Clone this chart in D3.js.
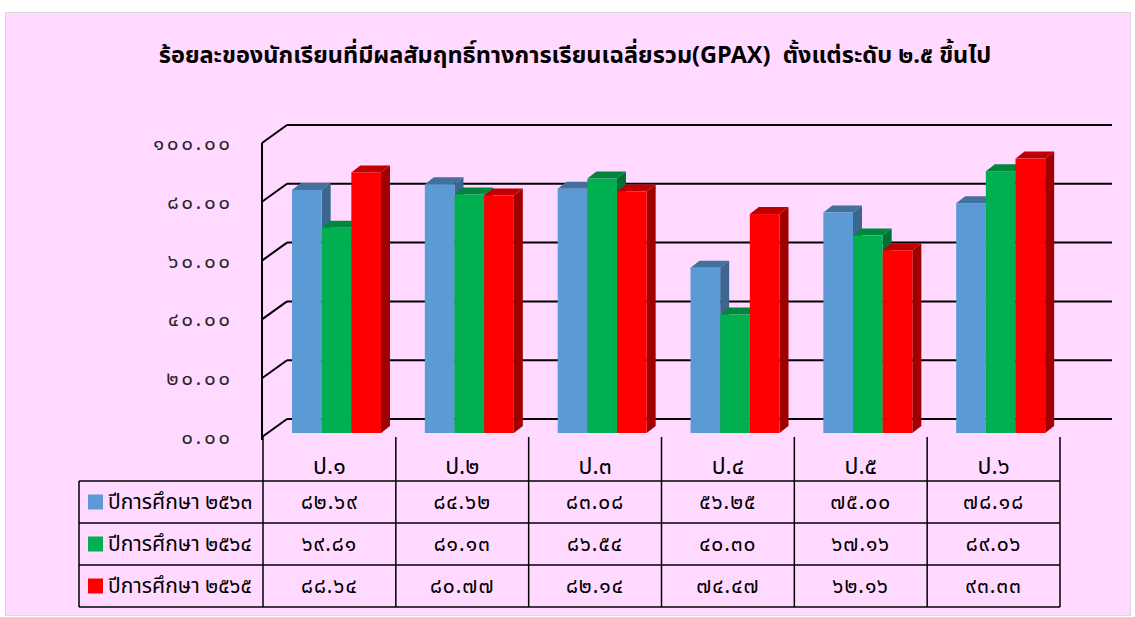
<!DOCTYPE html>
<html>
<head>
<meta charset="utf-8">
<script src="https://cdn.jsdelivr.net/npm/d3@7"></script>
<style>
  body { margin: 0; background: #fff; }
  text { font-family: "Noto Sans Thai", "Tahoma", "Noto Sans", sans-serif; white-space: pre; }
</style>
</head>
<body>
<script>
// data
var categories = ["ป.๑", "ป.๒", "ป.๓", "ป.๔", "ป.๕", "ป.๖"];
var seriesNames = ["ปีการศึกษา ๒๕๖๓", "ปีการศึกษา ๒๕๖๔", "ปีการศึกษา ๒๕๖๕"];
var values2563 = [82.69, 84.62, 83.08, 56.25, 75.00, 78.18];
var values2564 = [69.81, 81.13, 86.54, 40.30, 67.16, 89.06];
var values2565 = [88.64, 80.77, 82.14, 74.47, 62.16, 93.33];
var yTicks = [0, 20, 40, 60, 80, 100];
var seriesValues = [values2563, values2564, values2565];
var titleText = "ร้อยละของนักเรียนที่มีผลสัมฤทธิ์ทางการเรียนเฉลี่ยรวม(GPAX)  ตั้งแต่ระดับ ๒.๕ ขึ้นไป";

// front, top, side colours for each series
var colours = [
  {front: "#5B9BD5", top: "#41719C", side: "#3B6690"},
  {front: "#00B050", top: "#00863D", side: "#007033"},
  {front: "#FF0000", top: "#C00000", side: "#A00000"}
];

var thaiDigits = "๐๑๒๓๔๕๖๗๘๙";
function toThai(s) {
  return String(s).replace(/[0-9]/g, function(c){ return thaiDigits[+c]; });
}

var w = 1135, h = 617;
var svg = d3.select("body").append("svg")
    .attr("width", w)
    .attr("height", h);

// chart area
svg.append("rect")
    .attr("x", 5.5).attr("y", 12.5)
    .attr("width", 1125).attr("height", 603)
    .attr("fill", "#FFD9FF")
    .attr("stroke", "#D9D9D9");

svg.append("text")
    .attr("x", 575).attr("y", 63)
    .attr("text-anchor", "middle")
    .attr("font-size", "23.5px")
    .attr("font-weight", "bold")
    .attr("fill", "#000")
    .text(titleText);

// scales
var wallX = 262, wallDx = 25, wallDy = -18; // perspective offset of back wall
var plotRight = 1112;
var yFront = d3.scaleLinear().domain([0, 100]).range([437, 143]);
var yBar = d3.scaleLinear().domain([0, 100]).range([433, 139]);
var xCat = d3.scaleBand().domain(categories).range([263, 1060]);
var xSeries = d3.scaleBand().domain(d3.range(3)).range([29, 118]);
var depthX = 9, depthY = -7;

// gridlines on back wall plus diagonals to front wall
var grid = svg.append("g").attr("stroke", "#000").attr("stroke-width", 2).attr("fill", "none");
grid.selectAll("line.h")
    .data(yTicks)
    .enter().append("line")
    .attr("x1", wallX + wallDx).attr("x2", plotRight)
    .attr("y1", function(d){ return yFront(d) + wallDy; })
    .attr("y2", function(d){ return yFront(d) + wallDy; });
grid.selectAll("line.d")
    .data(yTicks)
    .enter().append("line")
    .attr("x1", wallX).attr("x2", wallX + wallDx)
    .attr("y1", function(d){ return yFront(d); })
    .attr("y2", function(d){ return yFront(d) + wallDy; });
grid.append("line")
    .attr("x1", wallX).attr("x2", wallX)
    .attr("y1", yFront(100)).attr("y2", yFront(0) + 3);

// y labels
svg.append("g").selectAll("text")
    .data(yTicks)
    .enter().append("text")
    .attr("x", 233)
    .attr("y", function(d){ return yFront(d); })
    .attr("dy", "0.35em")
    .attr("text-anchor", "end")
    .attr("font-size", "20px")
    .attr("letter-spacing", "3px")
    .attr("fill", "#262626")
    .text(function(d){ return toThai(d.toFixed(2)); });

// bars
var bars = [];
categories.forEach(function(c, i){
  seriesValues.forEach(function(vals, s){
    bars.push({cat: c, s: s, v: vals[i]});
  });
});

var barG = svg.append("g");
bars.forEach(function(d){
  var x0 = xCat(d.cat) + xSeries(d.s);
  var bw = xSeries.bandwidth();
  var yt = yBar(d.v), yb = yBar(0);
  var col = colours[d.s];
  // side face
  barG.append("path")
      .attr("d", "M" + (x0 + bw) + "," + yt +
                 "L" + (x0 + bw + depthX) + "," + (yt + depthY) +
                 "L" + (x0 + bw + depthX) + "," + (yb + depthY) +
                 "L" + (x0 + bw) + "," + yb + "Z")
      .attr("fill", col.side);
  // top face
  barG.append("path")
      .attr("d", "M" + x0 + "," + yt +
                 "L" + (x0 + depthX) + "," + (yt + depthY) +
                 "L" + (x0 + bw + depthX) + "," + (yt + depthY) +
                 "L" + (x0 + bw) + "," + yt + "Z")
      .attr("fill", col.top);
  // front face
  barG.append("rect")
      .attr("x", x0).attr("y", yt)
      .attr("width", bw).attr("height", yb - yt)
      .attr("fill", col.front);
});

// data table
var rowTop = 481, rowH = 42, tableLeft = 79, tableRight = 1060;
var tbl = svg.append("g").attr("stroke", "#000").attr("stroke-width", 1.5);
tbl.selectAll("line.row")
    .data(d3.range(4))
    .enter().append("line")
    .attr("x1", tableLeft).attr("x2", tableRight)
    .attr("y1", function(d){ return rowTop + d * rowH; })
    .attr("y2", function(d){ return rowTop + d * rowH; });
tbl.append("line")
    .attr("x1", tableLeft).attr("x2", tableLeft)
    .attr("y1", rowTop).attr("y2", rowTop + 3 * rowH);
var colEdges = categories.map(function(c){ return xCat(c); }).concat([tableRight]);
tbl.selectAll("line.col")
    .data(colEdges)
    .enter().append("line")
    .attr("x1", function(d){ return d; }).attr("x2", function(d){ return d; })
    .attr("y1", yFront(0)).attr("y2", rowTop + 3 * rowH);

// category header
svg.append("g").selectAll("text")
    .data(categories)
    .enter().append("text")
    .attr("x", function(d){ return xCat(d) + xCat.bandwidth() / 2; })
    .attr("y", 466)
    .attr("dy", "0.35em")
    .attr("text-anchor", "middle")
    .attr("font-size", "23px")
    .attr("fill", "#000")
    .text(function(d){ return d; });

// legend cells
seriesNames.forEach(function(name, s){
  var cy = rowTop + s * rowH + rowH / 2;
  svg.append("rect")
      .attr("x", 88).attr("y", cy - 7.5)
      .attr("width", 15).attr("height", 15)
      .attr("fill", colours[s].front);
  svg.append("text")
      .attr("x", 108).attr("y", cy)
      .attr("dy", "0.35em")
      .attr("font-size", "21px")
      .attr("fill", "#000")
      .text(name);
  svg.append("g").selectAll("text")
      .data(seriesValues[s])
      .enter().append("text")
      .attr("x", function(d, i){ return xCat(categories[i]) + xCat.bandwidth() / 2; })
      .attr("y", cy)
      .attr("dy", "0.35em")
      .attr("text-anchor", "middle")
      .attr("font-size", "21px")
      .attr("letter-spacing", "1px")
      .attr("fill", "#000")
      .text(function(d){ return toThai(d.toFixed(2)); });
});
</script>
</body>
</html>
